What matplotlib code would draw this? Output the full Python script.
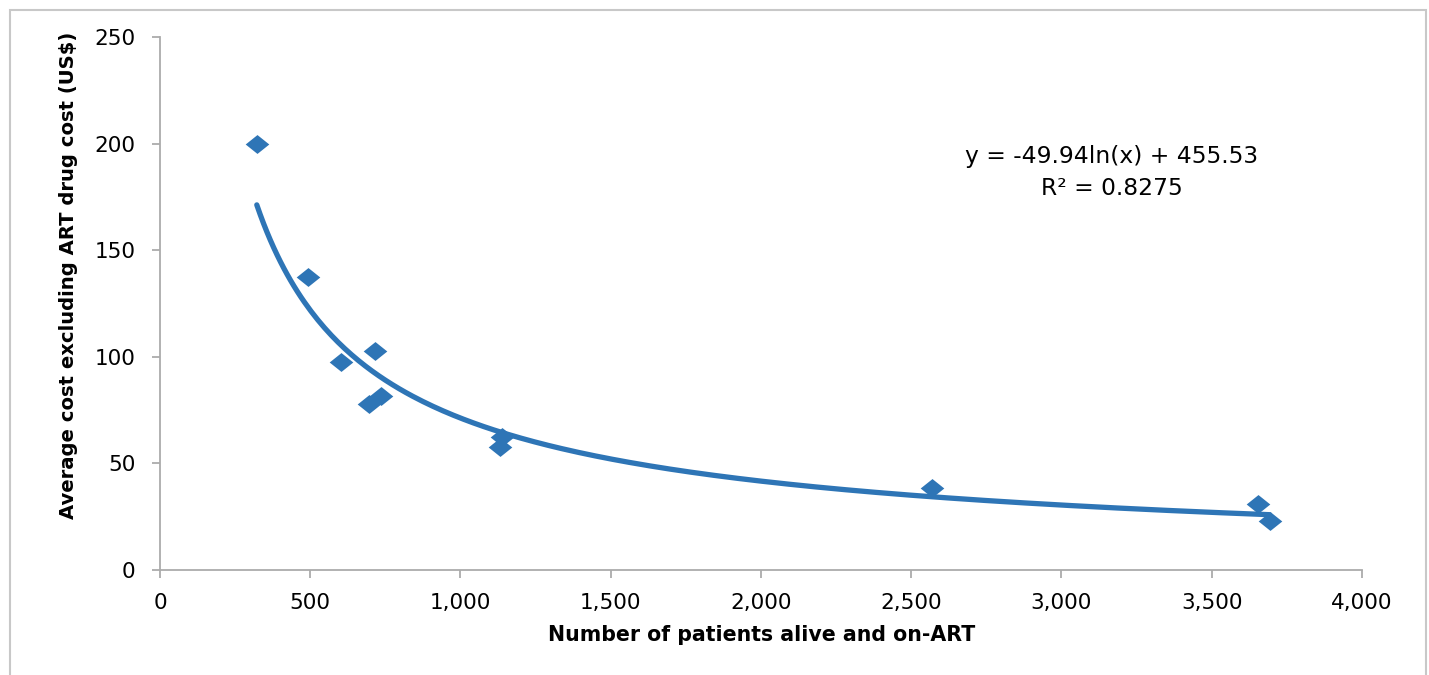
import matplotlib
matplotlib.use('Agg')
import matplotlib.pyplot as plt
from matplotlib.patches import Rectangle
import numpy as np

plt.rcParams['font.family'] = ['DejaVu Sans']

# patients alive and on-ART vs. average cost excl. ART drugs (US$)
patients = [322, 491, 601, 716, 696, 735, 1138, 1131, 2568, 3654, 3693]
cost = [199.8, 137.6, 97.4, 102.9, 77.9, 81.6, 62.2, 57.8, 38.3, 30.8, 23.1]

# trendline label as printed on the chart
eq_text = 'y = -49.94ln(x) + 455.53'
r2_text = 'R² = 0.8275'

xticks = [0, 500, 1000, 1500, 2000, 2500, 3000, 3500, 4000]
yticks = [0, 50, 100, 150, 200, 250]

blue = '#2E75B6'
grey = '#ABABAB'

fig = plt.figure(figsize=(14.29, 6.75), dpi=100)
ax = fig.add_axes([0.112, 0.1556, 0.841, 0.7894])

# the drawn trendline follows a power fit of the points
b, loga = np.polyfit(np.log(patients), np.log(cost), 1)
xt = np.linspace(min(patients), max(patients), 300)
ax.plot(xt, np.exp(loga) * xt ** b, color=blue, lw=3.8, zorder=2,
        solid_capstyle='round')

# slightly flattened diamonds like the original
diamond = [(-1, 0), (0, 0.8), (1, 0), (0, -0.8), (-1, 0)]
ax.plot(patients, cost, ls='none', marker=diamond, ms=17, color=blue,
        mec='none', zorder=3)

ax.set_xlim(0, 4000)
ax.set_ylim(0, 250)
ax.set_xticks(xticks)
ax.set_xticklabels([f'{v:,}' for v in xticks])
ax.set_yticks(yticks)
for s in ['top', 'right']:
    ax.spines[s].set_visible(False)
for s in ['left', 'bottom']:
    ax.spines[s].set_color(grey)
    ax.spines[s].set_linewidth(1.3)
ax.tick_params(direction='out', length=5.8, width=1.3, color=grey,
               labelsize=15.5)
ax.tick_params(axis='x', pad=11)
ax.tick_params(axis='y', pad=12)

ax.set_xlabel('Number of patients alive and on-ART', fontsize=14.8,
              fontweight='bold')
ax.xaxis.set_label_coords(0.5004, -0.103)
ax.set_ylabel('Average cost excluding ART drug cost (US$)', fontsize=14.1,
              fontweight='bold')
ax.yaxis.set_label_coords(-0.068, 0.553)

ax.text(0.792, 0.746, eq_text + '\n' + r2_text, transform=ax.transAxes,
        ha='center', va='center', fontsize=16.8, linespacing=1.5)

# outer chart frame
fig.patches.append(Rectangle((10 / 1429, -0.05), 1416 / 1429, 1.05 - 10 / 675,
                             transform=fig.transFigure, fill=False,
                             edgecolor='#C8C8C8', lw=1.5))

fig.savefig('out.png', dpi=100)
